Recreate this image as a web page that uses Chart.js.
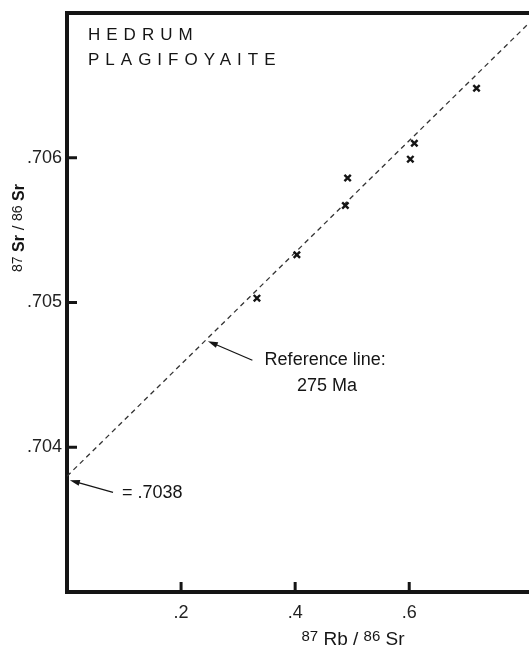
<!DOCTYPE html>
<html>
<head>
<meta charset="utf-8">
<script src="https://cdn.jsdelivr.net/npm/chart.js@4.4.0/dist/chart.umd.min.js"></script>
<style>
  html, body { margin: 0; padding: 0; background: #fff; }
  #wrap { width: 529px; height: 646px; position: relative; }
</style>
</head>
<body>
<div id="wrap"><canvas id="isochronChart"></canvas></div>
<script>
// whole-rock ratios
var rbSr = [0.333, 0.403, 0.488, 0.492, 0.602, 0.609, 0.718];
var srSr = [0.70503, 0.70533, 0.70567, 0.70586, 0.70599, 0.70610, 0.70648];

// 275 Ma reference line (end points)
var refX = [0, 0.81];
var refY = [0.7038, 0.70693];

var xTicks = [0.2, 0.4, 0.6];
var yTicks = [0.704, 0.705, 0.706];

var titleLines = ["HEDRUM", "PLAGIFOYAITE"];
var refLabel = ["Reference line:", "275 Ma"];
var interceptLabel = "= .7038";

var FONT = "Liberation Sans, Arial, Helvetica, sans-serif";
var INK = "#151515";

function fmt(v, d) {
  return Number(v).toFixed(d).replace(/^0/, "");
}

function arrow(ctx, x1, y1, x2, y2) {
  // tail (x1,y1) -> head (x2,y2)
  var ang = Math.atan2(y2 - y1, x2 - x1);
  var c = Math.cos(ang), s = Math.sin(ang);
  ctx.beginPath();
  ctx.moveTo(x1, y1);
  ctx.lineTo(x2 - 6 * c, y2 - 6 * s);
  ctx.stroke();
  ctx.beginPath();
  ctx.moveTo(x2, y2);
  ctx.lineTo(x2 - 10 * c + 3 * s, y2 - 10 * s - 3 * c);
  ctx.lineTo(x2 - 10 * c - 3 * s, y2 - 10 * s + 3 * c);
  ctx.closePath();
  ctx.fill();
}

// parts: [text, size, rise, weight]
function drawParts(ctx, parts, cx, base) {
  var total = 0;
  parts.forEach(function (p) {
    ctx.font = (p[3] || "normal") + " " + p[1] + "px " + FONT;
    p.w = ctx.measureText(p[0]).width;
    total += p.w;
  });
  var x = cx - total / 2;
  parts.forEach(function (p) {
    ctx.font = (p[3] || "normal") + " " + p[1] + "px " + FONT;
    ctx.fillText(p[0], x, base - p[2]);
    x += p.w;
  });
}

const framePlugin = {
  id: "frame",
  afterDraw(chart) {
    const ctx = chart.ctx;
    const a = chart.chartArea;
    const xs = chart.scales.x;
    const ys = chart.scales.y;
    ctx.save();
    ctx.strokeStyle = INK;
    ctx.fillStyle = INK;

    // top edge of the box
    ctx.lineWidth = 4;
    ctx.beginPath();
    ctx.moveTo(a.left - 2, a.top);
    ctx.lineTo(a.right, a.top);
    ctx.stroke();

    // inward tick marks
    ctx.lineWidth = 3;
    yTicks.forEach(function (v) {
      var py = ys.getPixelForValue(v);
      ctx.beginPath();
      ctx.moveTo(a.left, py);
      ctx.lineTo(a.left + 10, py);
      ctx.stroke();
    });
    xTicks.forEach(function (v) {
      var px = xs.getPixelForValue(v);
      ctx.beginPath();
      ctx.moveTo(px, a.bottom);
      ctx.lineTo(px, a.bottom - 10);
      ctx.stroke();
    });

    // sample name
    ctx.textBaseline = "middle";
    ctx.textAlign = "left";
    ctx.font = "normal 17px " + FONT;
    if ("letterSpacing" in ctx) ctx.letterSpacing = "6px";
    ctx.fillText(titleLines[0], a.left + 21, a.top + 22);
    ctx.fillText(titleLines[1], a.left + 21, a.top + 47);
    if ("letterSpacing" in ctx) ctx.letterSpacing = "0px";

    // reference line label + arrow
    ctx.lineWidth = 1.3;
    arrow(ctx, xs.getPixelForValue(0.325), ys.getPixelForValue(0.704601),
               xs.getPixelForValue(0.247), ys.getPixelForValue(0.704733));
    ctx.textAlign = "center";
    ctx.font = "normal 18px " + FONT;
    ctx.fillText(refLabel[0], xs.getPixelForValue(0.4526), ys.getPixelForValue(0.704601));
    ctx.fillText(refLabel[1], xs.getPixelForValue(0.456), ys.getPixelForValue(0.704421));

    // intercept label + arrow
    arrow(ctx, xs.getPixelForValue(0.0807), ys.getPixelForValue(0.703689),
               xs.getPixelForValue(0.005), ys.getPixelForValue(0.703772));
    ctx.textAlign = "left";
    ctx.fillText(interceptLabel, xs.getPixelForValue(0.0965), ys.getPixelForValue(0.703683));

    // axis titles with superscript mass numbers
    ctx.textBaseline = "alphabetic";
    drawParts(ctx, [["87", 15, 4], [" Rb / ", 19, 0], ["86", 15, 4], [" Sr", 19, 0]],
              353, 645);

    ctx.translate(24, 228);
    ctx.rotate(-Math.PI / 2);
    drawParts(ctx, [["87", 14, 2], [" Sr", 16, 0, "bold"], [" / ", 17, 0], ["86", 14, 2], [" Sr", 16, 0, "bold"]], 0, 0);

    ctx.restore();
  }
};

const ctx = document.getElementById("isochronChart").getContext("2d");
const isochron = new Chart(ctx, {
  type: "scatter",
  data: {
    datasets: [
      {
        label: "samples",
        data: rbSr.map(function (x, i) { return { x: x, y: srSr[i] }; }),
        pointStyle: "crossRot",
        pointRadius: 4.5,
        pointBorderWidth: 2.4,
        borderColor: INK,
        backgroundColor: INK,
      },
      {
        label: "275 Ma reference",
        data: refX.map(function (x, i) { return { x: x, y: refY[i] }; }),
        showLine: true,
        pointRadius: 0,
        borderColor: "#333",
        borderWidth: 1.3,
        borderDash: [5, 4],
      },
    ],
  },
  options: {
    responsive: true,
    maintainAspectRatio: false,
    animation: false,
    events: [],
    layout: { autoPadding: false, padding: { top: 13, left: 0, right: 0, bottom: 0 } },
    plugins: { legend: { display: false }, tooltip: { enabled: false } },
    scales: {
      x: {
        type: "linear",
        min: 0,
        max: 0.81,
        afterBuildTicks: function (s) { s.ticks = xTicks.map(function (v) { return { value: v }; }); },
        afterFit: function (s) { s.height = 54; s.paddingLeft = 0; s.paddingRight = 0; },
        grid: { display: false, drawTicks: false },
        border: { display: true, width: 4, color: INK },
        ticks: {
          padding: 10,
          maxRotation: 0,
          color: "#222",
          font: { family: FONT, size: 18 },
          callback: function (v) { return fmt(v, 1); },
        },
      },
      y: {
        type: "linear",
        min: 0.703,
        max: 0.707,
        afterBuildTicks: function (s) { s.ticks = yTicks.map(function (v) { return { value: v }; }); },
        afterFit: function (s) { s.width = 67; s.paddingTop = 0; s.paddingBottom = 0; },
        grid: { display: false, drawTicks: false },
        border: { display: true, width: 4, color: INK },
        ticks: {
          padding: 5,
          color: "#222",
          font: { family: FONT, size: 18 },
          callback: function (v) { return fmt(v, 3); },
        },
      },
    },
  },
  plugins: [framePlugin],
});
</script>
</body>
</html>
